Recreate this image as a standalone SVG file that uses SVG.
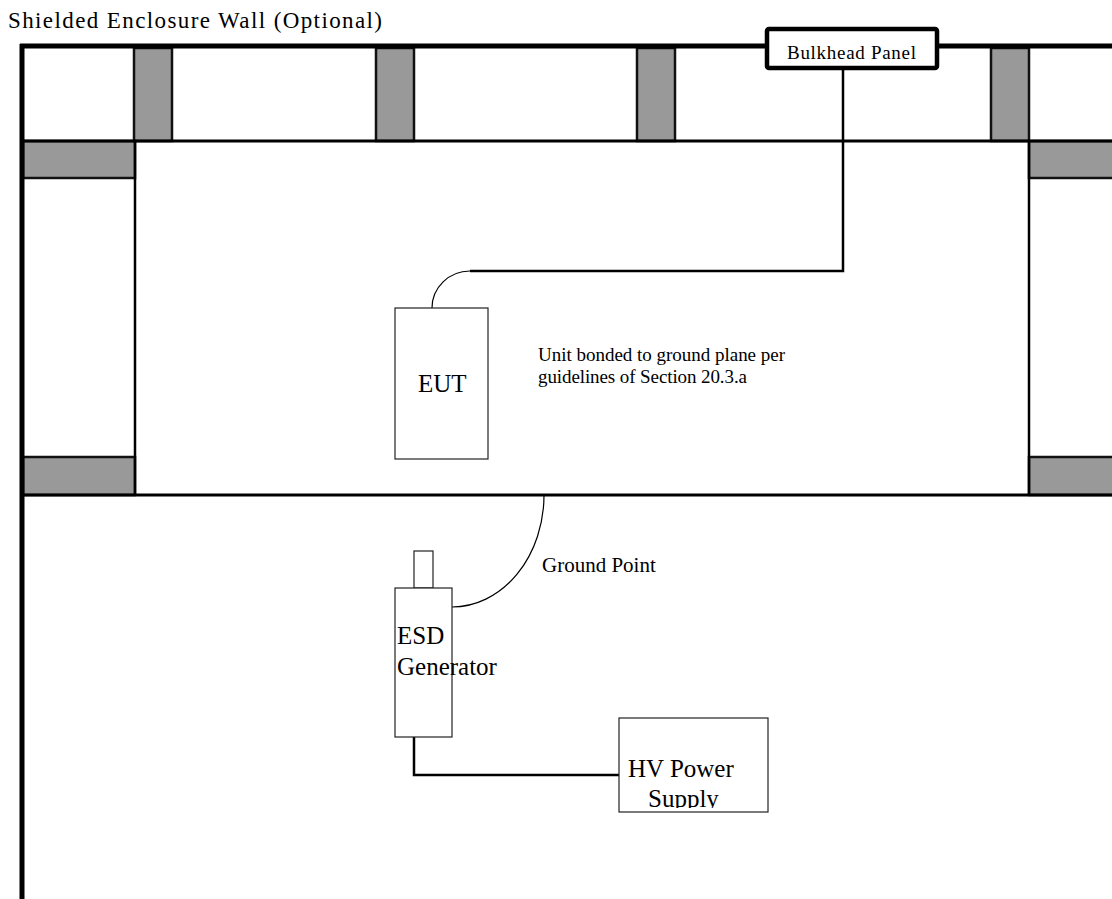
<svg xmlns="http://www.w3.org/2000/svg" width="1112" height="899" viewBox="0 0 1112 899">
<defs>
<style>
.t{font-family:"Liberation Serif","Times New Roman",serif;fill:#000}
.pil{fill:#999;stroke:#111;stroke-width:2.5}
.box{fill:#fff;stroke:#222;stroke-width:1.2}
.wire{fill:none;stroke:#000;stroke-width:2.5}
.thin{fill:none;stroke:#000;stroke-width:1.2}
</style>
<clipPath id="hvclip"><rect x="619" y="718" width="149" height="90"/></clipPath>
</defs>
<rect width="1112" height="899" fill="#fff"/>
<text class="t" x="8" y="28" font-size="23" textLength="374" lengthAdjust="spacing">Shielded Enclosure Wall (Optional)</text>
<g id="enclosure">
<rect class="pil" x="134" y="48" width="38" height="93"/>
<rect class="pil" x="376" y="48" width="38" height="93"/>
<rect class="pil" x="637" y="48" width="38" height="93"/>
<rect class="pil" x="991" y="48" width="38" height="93"/>
<rect class="pil" x="23" y="141" width="112" height="37"/>
<rect class="pil" x="23" y="457" width="112" height="38"/>
<rect class="pil" x="1029" y="141" width="85" height="37"/>
<rect class="pil" x="1029" y="457" width="85" height="38"/>
<line x1="22" y1="141" x2="1112" y2="141" stroke="#000" stroke-width="3"/>
<line x1="22" y1="495" x2="1112" y2="495" stroke="#000" stroke-width="3"/>
<line x1="135" y1="141" x2="135" y2="495" stroke="#000" stroke-width="2.5"/>
<line x1="1029" y1="141" x2="1029" y2="495" stroke="#000" stroke-width="2.5"/>
<line x1="20" y1="46" x2="1112" y2="46" stroke="#000" stroke-width="5"/>
<line x1="22" y1="44" x2="22" y2="899" stroke="#000" stroke-width="5"/>
</g>
<g id="connectors">
<path class="wire" d="M843,68 V271 H470"/>
<path class="thin" d="M470,271 A38,37 0 0 0 432,308"/>
<path class="thin" d="M544,495 A92,112 0 0 1 452,607"/>
<path class="wire" d="M414,737 V775 H619"/>
</g>
<g id="bulkhead">
<rect x="767" y="29" width="170" height="39" rx="2" fill="#fff" stroke="#000" stroke-width="4.5"/>
<text class="t" x="787" y="59" font-size="19" textLength="129" lengthAdjust="spacing">Bulkhead Panel</text>
</g>
<g id="eut">
<rect class="box" x="395" y="308" width="93" height="151"/>
<text class="t" x="418" y="392" font-size="25">EUT</text>
</g>
<g id="note">
<text class="t" x="538" y="361" font-size="19" textLength="247" lengthAdjust="spacing">Unit bonded to ground plane per</text>
<text class="t" x="538" y="383" font-size="19" textLength="209" lengthAdjust="spacing">guidelines of Section 20.3.a</text>
</g>
<g id="ground-point">
<text class="t" x="542" y="572" font-size="21">Ground Point</text>
</g>
<g id="esd">
<rect class="box" x="414" y="551" width="19" height="37"/>
<rect class="box" x="395" y="588" width="57" height="149"/>
<text class="t" x="397" y="644" font-size="25">ESD</text>
<text class="t" x="397" y="675" font-size="25">Generator</text>
</g>
<g id="hv">
<rect class="box" x="619" y="718" width="149" height="94"/>
<g clip-path="url(#hvclip)">
<text class="t" x="628" y="777" font-size="25">HV Power</text>
<text class="t" x="648" y="807" font-size="25">Supply</text>
</g>
</g>
</svg>
